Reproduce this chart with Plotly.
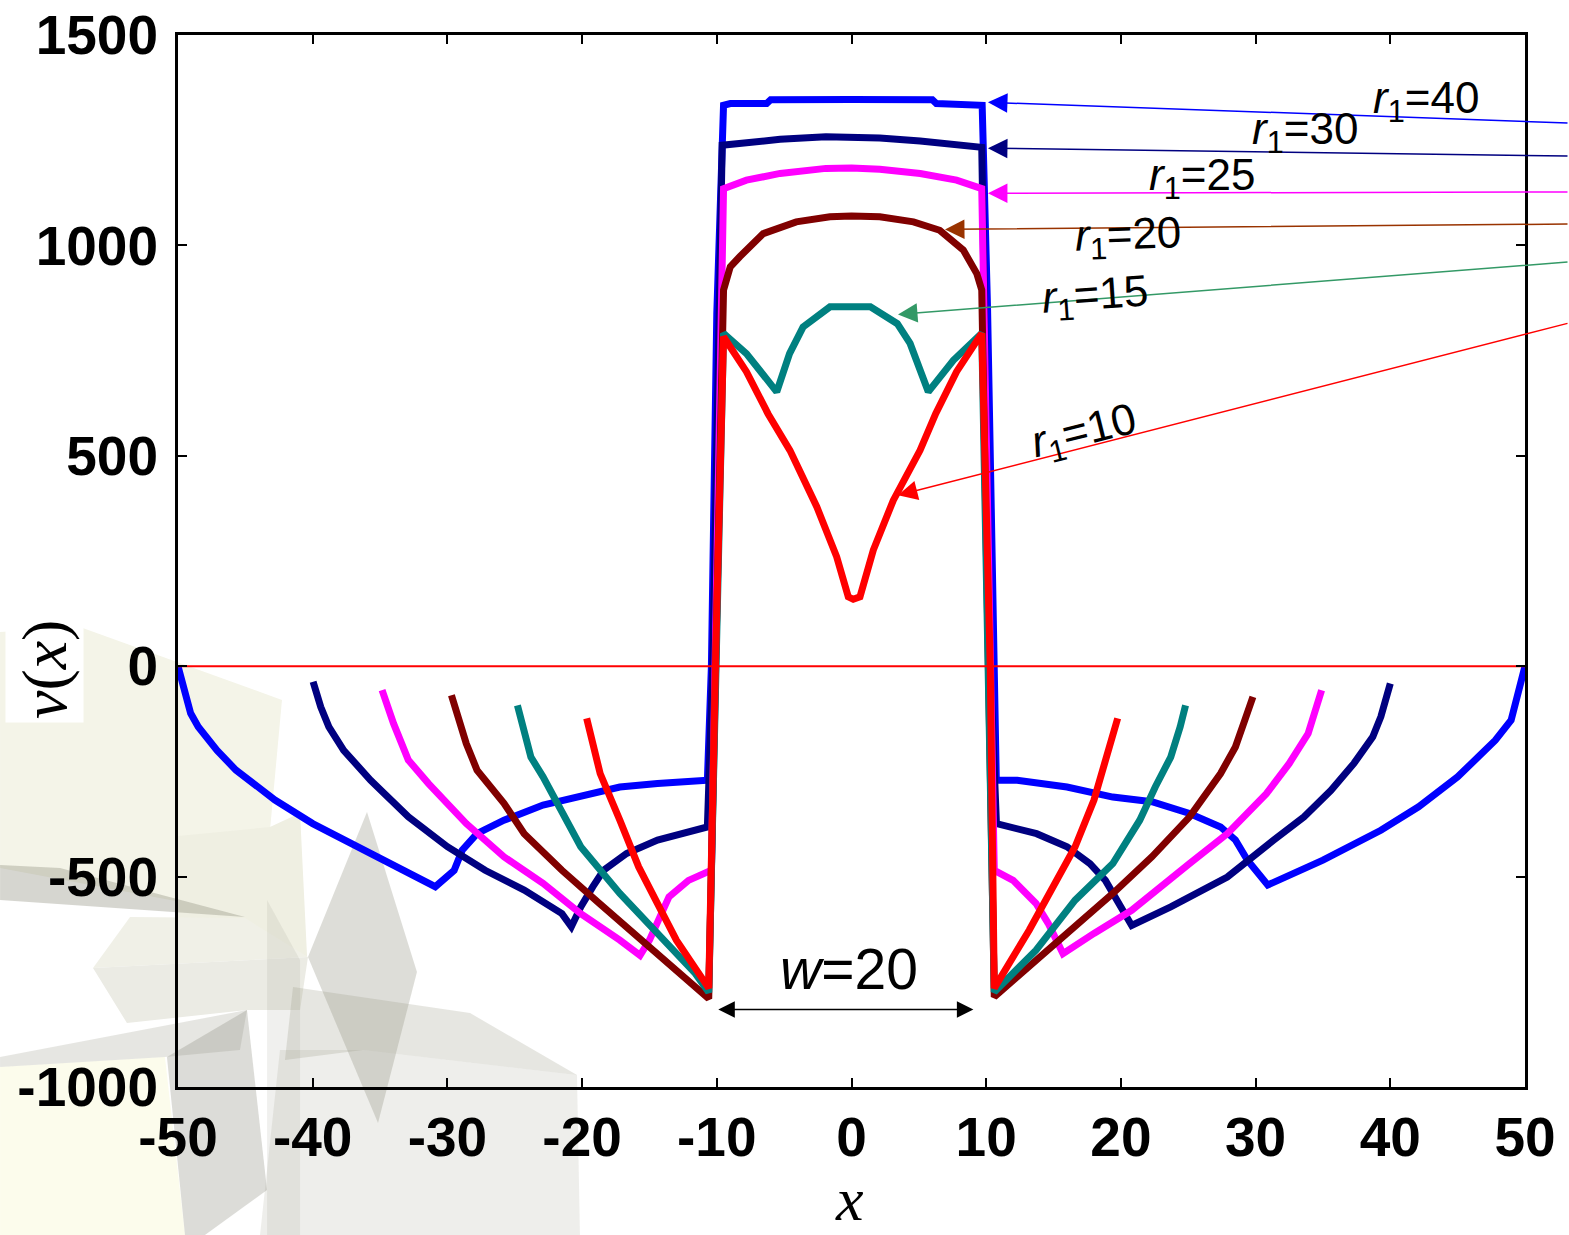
import plotly.graph_objects as go

# ---------------- data ----------------
x_r40 = [-50, -49.06, -48.5, -47.1, -45.7, -42.8, -40.0, -37.1, -34.3, -30.9, -29.5, -28.9, -27.8,
         -25.8, -22.9, -20.1, -17.2, -14.4, -10.7, -10.4, -10.0, -9.5, -9.0, -6.3, -6.0, 0, 6.0, 6.3,
         9.2, 9.7, 10.1, 10.5, 10.75, 12.3, 16.0, 19.4, 22.3, 25.1, 27.4, 28.5, 29.4, 30.9, 32.2,
         35.0, 39.3, 42.1, 45.0, 47.8, 48.97, 49.5, 50]
y_r40 = [0, -112, -144, -200, -247, -318, -374, -421, -469, -524, -485, -437, -398,
         -366, -330, -307, -287, -279, -271, 0, 838, 1333, 1337, 1337, 1346, 1347, 1346, 1337,
         1337, 1333, 850, 0, -271, -271, -287, -311, -322, -350, -382, -413, -461, -520, -501,
         -461, -390, -334, -263, -176, -128, -57, 0]

x_r30 = [-39.97, -39.4, -38.8, -37.7, -35.7, -32.9, -30.0, -27.2, -24.3, -21.5, -20.8, -20.1, -19.2,
         -18.4, -16.7, -14.4, -10.7, -10.3, -9.6, -7.8, -5.3, -1.9, 0, 2.1, 5.1, 7.8, 9.67, 10.3,
         10.76, 13.74, 16.0, 17.7, 18.85, 20.0, 20.8, 23.7, 27.9, 31.35, 33.6, 35.6, 37.3, 38.7,
         39.3, 40.0]
y_r30 = [-37, -97, -144, -200, -271, -358, -429, -485, -532, -588, -619, -572, -524,
         -485, -445, -413, -382, 0, 1238, 1244, 1252, 1258, 1258, 1255, 1248, 1238, 1233, 0,
         -374, -398, -429, -469, -509, -572, -616, -572, -501, -413, -358, -295, -231, -168,
         -120, -41]

x_r25 = [-34.85, -34.0, -32.9, -31.4, -28.6, -25.8, -22.9, -20.1, -17.2, -15.7, -15.0, -14.1, -13.55,
         -12.1, -10.4, -9.5, -7.8, -5.3, -1.9, 0, 2.1, 5.1, 7.8, 9.67, 10.6, 12.0, 13.7, 14.6, 15.7,
         18.0, 20.8, 25.1, 27.9, 30.8, 32.5, 33.9, 34.9]
y_r25 = [-57, -136, -223, -279, -374, -453, -516, -588, -651, -687, -651, -588, -548,
         -509, -485, 1135, 1155, 1171, 1183, 1184, 1181, 1171, 1155, 1135, -485, -509, -564, -611, -683,
         -635, -580, -469, -398, -303, -231, -160, -57]

x_r20 = [-29.7, -28.6, -27.8, -25.8, -24.3, -21.5, -18.7, -15.8, -13.0, -10.6, -9.5, -9.0, -8.3,
         -6.55, -4.1, -1.6, 0, 2.1, 4.6, 6.55, 8.3, 9.3, 9.67, 10.6, 13.7, 16.6, 19.4, 22.3, 25.1,
         27.4, 28.5, 29.2, 29.8]
y_r20 = [-69, -184, -247, -326, -398, -485, -564, -643, -722, -790, 894, 949, 973,
         1028, 1056, 1068, 1070, 1068, 1056, 1036, 989, 933, 894, -786, -699, -619, -540, -453, -358,
         -255, -192, -128, -73]

x_r15 = [-24.8, -23.8, -22.9, -21.5, -20.1, -17.2, -14.4, -11.6, -10.6, -9.5, -7.8, -5.55, -4.6,
         -3.6, -1.6, 0, 1.4, 3.4, 4.35, 5.7, 7.56, 9.67, 10.6, 13.7, 16.6, 19.4, 21.4, 22.55, 23.7,
         24.4, 24.8]
y_r15 = [-93, -216, -263, -350, -429, -540, -635, -730, -775, 791, 743, 652, 743,
         806, 854, 856, 854, 814, 767, 652, 727, 791, -774, -675, -556, -469, -366, -287, -216,
         -144, -93]

x_r10 = [-19.66, -18.66, -17.2, -15.8, -14.4, -13.0, -11.0, -10.6, -10.1, -9.5, -7.8, -6.2, -4.57,
         -2.58, -1.1, -0.24, 0.13, 0.63, 1.62, 3.1, 5.09, 6.25, 7.8, 9.67, 10.3, 10.6, 13.2, 15.2,
         16.6, 18.0, 18.85, 19.4, 19.76]
y_r10 = [-124, -255, -366, -477, -564, -651, -746, -765, 0, 783, 700, 600, 513,
         379, 260, 165, 159, 165, 276, 394, 513, 600, 700, 791, 0, -765, -627, -509,
         -429, -318, -231, -168, -124]

x_zero = [-50, 50]
y_zero = [0, 0]

series_names = ["r1=40", "r1=30", "r1=25", "r1=20", "r1=15", "r1=10"]
series_x = [x_r40, x_r30, x_r25, x_r20, x_r15, x_r10]
series_y = [y_r40, y_r30, y_r25, y_r20, y_r15, y_r10]
series_colors = ["#0000ff", "#000080", "#ff00ff", "#800000", "#008080", "#ff0000"]

label_texts = ["<i>r</i><sub>1</sub>=40", "<i>r</i><sub>1</sub>=30", "<i>r</i><sub>1</sub>=25",
               "<i>r</i><sub>1</sub>=20", "<i>r</i><sub>1</sub>=15", "<i>r</i><sub>1</sub>=10"]
# arrow heads (data coords) that the labels point to
arrow_head_x = [10.13, 10.13, 10.13, 6.94, 3.45, 3.45]
arrow_head_y = [1340, 1231, 1124, 1038, 836, 406]
arrow_colors = ["#0000ff", "#000080", "#ff00ff", "#993300", "#339966", "#ff0000"]

x_ticks = [-50, -40, -30, -20, -10, 0, 10, 20, 30, 40, 50]
y_ticks = [-1000, -500, 0, 500, 1000, 1500]

# ---------------- layout geometry (page pixels) ----------------
W, H = 1569, 1235
L, R, T, B = 178, 1525, 35, 1087  # plot area in page pixels


def pp(px, py):
    return (px - L) / (R - L), (B - py) / (B - T)


fig = go.Figure()

for xs, ys, c, n in zip(series_x, series_y, series_colors, series_names):
    fig.add_trace(go.Scatter(x=xs, y=ys, mode="lines", name=n,
                             line=dict(color=c, width=7), showlegend=False))
fig.add_trace(go.Scatter(x=x_zero, y=y_zero, mode="lines", line=dict(color="#ff0000", width=2),
                         showlegend=False))

# ---------------- decorative background patches ----------------
decor = [
    ([(0, 1067), (165, 1057), (185, 1235), (0, 1235)], "rgba(252,252,236,1)"),
    ([(0, 632), (80, 627), (282, 700), (270, 830), (250, 915), (0, 868)], "rgba(244,244,232,1)"),
    ([(178, 836), (270, 827), (300, 813), (307, 956), (200, 950), (178, 930)], "rgba(239,239,226,1)"),
    ([(130, 917), (245, 918), (308, 957), (93, 968)], "rgba(240,240,231,1)"),
    ([(93, 968), (308, 957), (300, 1010), (247, 1010), (127, 1023)], "rgba(235,235,228,1)"),
    ([(0, 1057), (247, 1010), (240, 1050), (165, 1057), (0, 1067)], "rgba(150,150,135,0.24)"),
    ([(280, 1050), (363, 1050), (577, 1075), (580, 1235), (260, 1235)], "rgba(150,150,130,0.16)"),
    ([(167, 1057), (247, 1010), (267, 1190), (205, 1235), (185, 1235)], "rgba(140,140,125,0.30)"),
    ([(267, 900), (300, 960), (300, 1235), (267, 1235)], "rgba(150,150,135,0.14)"),
    ([(293, 987), (470, 1013), (577, 1075), (363, 1050), (285, 1060)], "rgba(150,150,130,0.24)"),
    ([(367, 812), (417, 972), (378, 1123), (308, 957)], "rgba(150,150,135,0.32)"),
    ([(0, 865), (60, 868), (245, 917), (0, 900)], "rgba(140,140,125,0.36)"),
]
shapes = []
for poly, col in decor:
    pts = [pp(a, b) for a, b in poly]
    path = "M " + " L ".join(f"{u:.4f},{v:.4f}" for u, v in pts) + " Z"
    shapes.append(dict(type="path", path=path, xref="paper", yref="paper",
                       fillcolor=col, line=dict(width=0), layer="below"))

annotations = []
# arrows from the right edge to the curves
tails_px = [(1569, 123), (1569, 156), (1569, 192), (1569, 224), (1569, 262), (1569, 323)]
for hx, hy, col, (tx, ty) in zip(arrow_head_x, arrow_head_y, arrow_colors, tails_px):
    hpx = L + (hx + 50) / 100 * (R - L)
    hpy = B - (hy + 1000) / 2500 * (B - T)
    annotations.append(dict(x=hx, y=hy, xref="x", yref="y", ax=tx - hpx, ay=ty - hpy,
                            axref="pixel", ayref="pixel", showarrow=True, arrowhead=2,
                            arrowsize=2.6, arrowwidth=1.5, arrowcolor=col, text=""))

# r1 labels
label_pos = [(1426, 101, 0), (1305, 132, 0), (1202, 178, 0), (1128, 237, -2), (1095, 297, -4),
             (1084, 433, -14)]
for txt, (cx, cy, ang) in zip(label_texts, label_pos):
    u, v = pp(cx, cy)
    annotations.append(dict(x=u, y=v, xref="paper", yref="paper", text=txt, showarrow=False,
                            textangle=ang, xanchor="center", yanchor="middle",
                            font=dict(family="Liberation Sans, Arial", size=44, color="black")))

# w=20 double arrow
annotations.append(dict(x=9.05, y=-816, xref="x", yref="y", ax=-10.0, ay=-816, axref="x", ayref="y",
                        showarrow=True, arrowhead=2, arrowsize=2.2, arrowwidth=1.5,
                        arrowside="end+start", arrowcolor="black", text=""))
u, v = pp(849, 969)
annotations.append(dict(x=u, y=v, xref="paper", yref="paper", text="<i>w</i>=20", showarrow=False,
                        xanchor="center", yanchor="middle",
                        font=dict(family="Liberation Sans, Arial", size=57, color="black")))

# axis titles
u, v = pp(849, 1199)
annotations.append(dict(x=u, y=v, xref="paper", yref="paper", text="<i>x</i>", showarrow=False,
                        xanchor="center", yanchor="middle",
                        font=dict(family="Liberation Serif, Times New Roman", size=62, color="black")))
u, v = pp(44, 670)
annotations.append(dict(x=u, y=v, xref="paper", yref="paper", text="<i>v</i>(<i>x</i>)",
                        showarrow=False, textangle=-90, xanchor="center", yanchor="middle",
                        bgcolor="white", borderpad=3,
                        font=dict(family="Liberation Serif, Times New Roman", size=64, color="black")))

tickfont = dict(family="Liberation Sans, Arial", size=55, color="black", weight="bold")
fig.update_layout(
    width=W, height=H, autosize=False,
    margin=dict(l=L, r=W - R, t=T, b=H - B, pad=0),
    paper_bgcolor="white", plot_bgcolor="rgba(0,0,0,0)",
    shapes=shapes, annotations=annotations,
    xaxis=dict(range=[-50, 50], tickvals=x_ticks, ticktext=[str(t) for t in x_ticks],
               showgrid=False, zeroline=False, showline=True, mirror="ticks", linecolor="black",
               linewidth=3, ticks="inside", ticklen=9, tickwidth=2, tickcolor="black",
               tickfont=tickfont, ticklabelstandoff=0, automargin=False,
               ticklabeloverflow="allow"),
    yaxis=dict(range=[-1000, 1500], tickvals=y_ticks, ticktext=[str(t) for t in y_ticks],
               showgrid=False, zeroline=False, showline=True, mirror="ticks", linecolor="black",
               linewidth=3, ticks="inside", ticklen=9, tickwidth=2, tickcolor="black",
               tickfont=tickfont, ticklabelstandoff=6, automargin=False,
               ticklabeloverflow="allow"),
)

# remove the page's default body margin so the figure starts at the window's corner
fig.write_html("out.html", config={"displayModeBar": False},
               post_script="document.body.style.margin='0';document.body.style.overflow='hidden';")
